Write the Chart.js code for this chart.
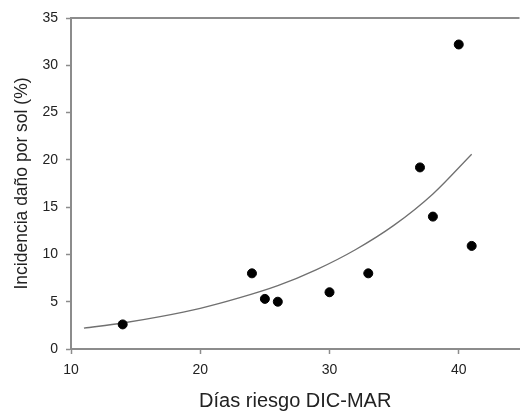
<!DOCTYPE html>
<html>
<head>
<meta charset="utf-8">
<style>
  html, body { margin: 0; padding: 0; background: #fff; }
  #wrap { width: 525px; height: 411px; }
</style>
<script src="https://cdn.jsdelivr.net/npm/chart.js@4"></script>
</head>
<body>
<div id="wrap"><canvas id="chart"></canvas></div>
<script>
// observed points: risk days vs. sunburn incidence
const dias = [14, 24, 25, 26, 30, 33, 37, 38, 40, 41];
const incidencia = [2.6, 8.0, 5.3, 5.0, 6.0, 8.0, 19.2, 14.0, 32.2, 10.9];

// fitted trend curve
const curvaX = [11, 14, 17, 20, 23, 26, 29, 32, 35, 38, 41];
const curvaY = [2.2, 2.75, 3.45, 4.3, 5.4, 6.7, 8.4, 10.5, 13.1, 16.4, 20.6];

const xTicks = [10, 20, 30, 40];

const axisGray = "#8c8c8c";
const textColor = "#222";
const fontFamily = "'Liberation Sans', Arial, sans-serif";

// top frame line
const topLine = {
  id: "topLine",
  afterDraw(chart) {
    const { ctx, chartArea } = chart;
    ctx.save();
    ctx.strokeStyle = axisGray;
    ctx.lineWidth = 2;
    ctx.beginPath();
    ctx.moveTo(chartArea.left, chartArea.top);
    ctx.lineTo(chartArea.right, chartArea.top);
    ctx.stroke();
    ctx.restore();
  },
};

new Chart(document.getElementById("chart"), {
  type: "scatter",
  data: {
    datasets: [
      {
        data: dias.map((d, i) => ({ x: d, y: incidencia[i] })),
        backgroundColor: "#000",
        borderColor: "#000",
        pointRadius: 4.5,
        order: 0,
      },
      {
        type: "line",
        data: curvaX.map((d, i) => ({ x: d, y: curvaY[i] })),
        borderColor: "#707070",
        borderWidth: 1.3,
        pointRadius: 0,
        cubicInterpolationMode: "monotone",
        fill: false,
        order: 1,
      },
    ],
  },
  plugins: [topLine],
  options: {
    responsive: true,
    maintainAspectRatio: false,
    animation: false,
    layout: { padding: { top: 18, right: 0, left: 0, bottom: 0 } },
    plugins: {
      legend: { display: false },
      tooltip: { enabled: false },
    },
    scales: {
      x: {
        type: "linear",
        min: 10,
        max: 44.7,
        afterBuildTicks: (axis) => {
          axis.ticks = xTicks.map((v) => ({ value: v }));
        },
        afterFit: (axis) => {
          axis.height = 62;
        },
        grid: {
          drawOnChartArea: false,
          tickLength: 5,
          tickColor: axisGray,
          tickWidth: 1.5,
        },
        border: { color: axisGray, width: 2 },
        ticks: {
          color: textColor,
          font: { family: fontFamily, size: 14 },
          padding: 8,
          maxRotation: 0,
        },
        title: {
          display: true,
          text: "Días riesgo DIC-MAR",
          color: textColor,
          font: { family: fontFamily, size: 20 },
          padding: { top: 0, bottom: -2 },
        },
      },
      y: {
        min: 0,
        max: 35,
        afterFit: (axis) => {
          axis.width = 71;
        },
        grid: {
          drawOnChartArea: false,
          tickLength: 5,
          tickColor: axisGray,
          tickWidth: 1.5,
        },
        border: { color: axisGray, width: 2 },
        ticks: {
          stepSize: 5,
          color: textColor,
          font: { family: fontFamily, size: 14 },
          padding: 8,
        },
        title: {
          display: true,
          text: "Incidencia daño por sol (%)",
          color: textColor,
          font: { family: fontFamily, size: 17.5 },
          padding: { top: 12, bottom: 0 },
        },
      },
    },
  },
});
</script>
</body>
</html>
